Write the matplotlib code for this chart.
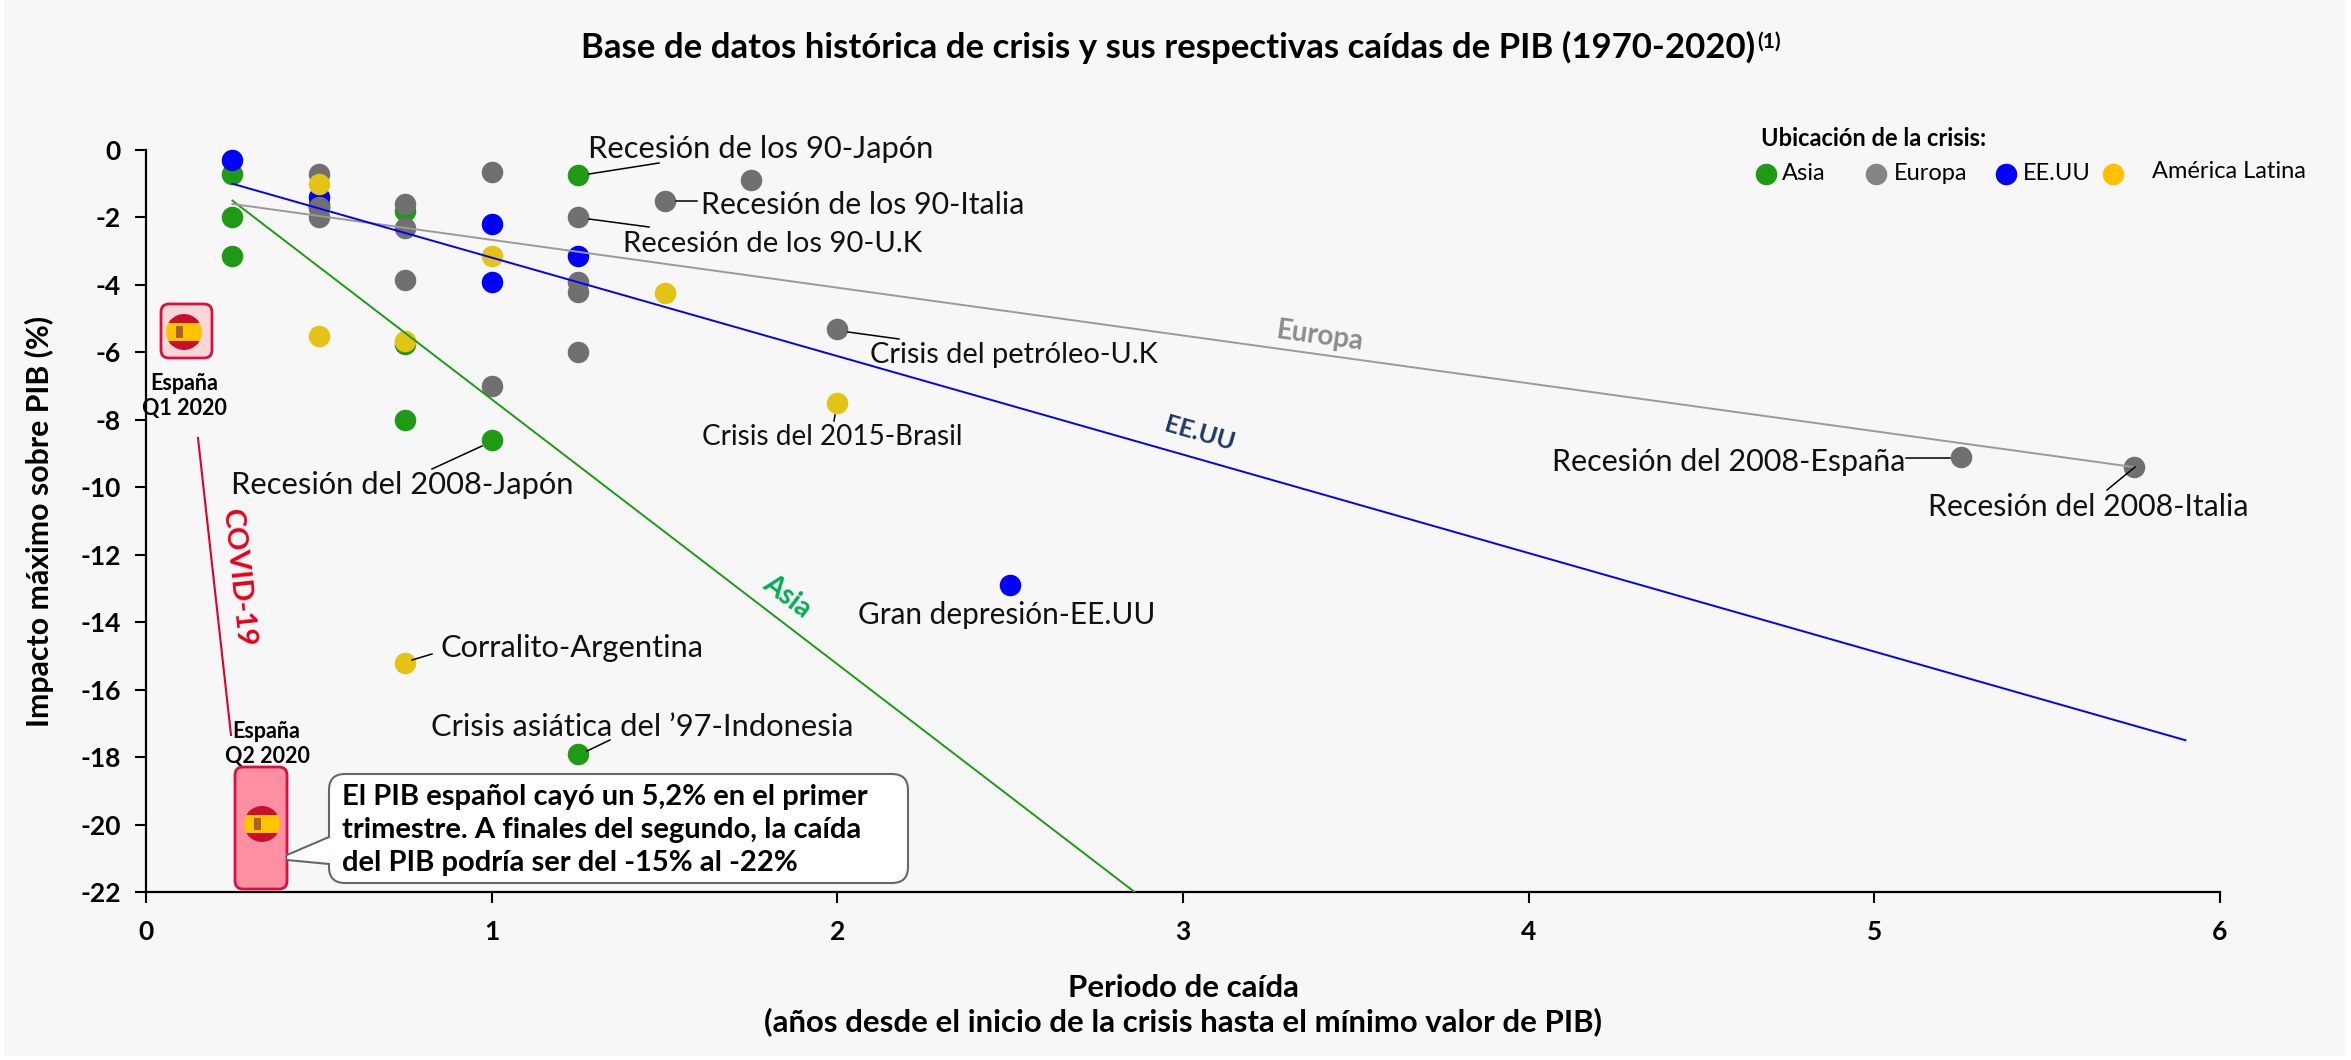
import matplotlib
matplotlib.use('Agg')
import matplotlib.pyplot as plt
from matplotlib.patches import Rectangle, FancyBboxPatch, Polygon, Circle

plt.rcParams['font.family'] = ['Lato', 'DejaVu Sans']

W, H = 2351, 1060

# datos por region (x = años de caida, y = impacto PIB)
asia_x = [0.25, 0.25, 0.25, 0.5, 0.75, 0.75, 0.75, 1, 1.25, 1.25]
asia_y = [-0.7, -2, -3.15, -1.6, -1.8, -5.75, -8, -8.6, -0.75, -17.9]
europa_x = [0.5, 0.5, 0.5, 0.75, 0.75, 0.75, 1, 1, 1.25, 1.25, 1.25, 1.25, 1.5, 1.75, 2, 5.25, 5.75]
europa_y = [-0.7, -1.7, -2, -1.6, -2.3, -3.85, -0.65, -7, -2, -3.9, -4.2, -6, -1.5, -0.9, -5.3, -9.1, -9.4]
eeuu_x = [0.25, 0.5, 0.5, 1, 1, 1.25, 2.5]
eeuu_y = [-0.3, -1.4, -1.7, -2.2, -3.9, -3.15, -12.9]
latam_x = [0.5, 0.5, 0.75, 0.75, 1, 1.5, 2]
latam_y = [-1, -5.5, -5.65, -15.2, -3.15, -4.25, -7.5]

# lineas de tendencia
trend_asia_x = [0.25, 2.86]
trend_asia_y = [-1.5, -22]
trend_europa_x = [0.25, 5.75]
trend_europa_y = [-1.6, -9.4]
trend_eeuu_x = [0.25, 5.9]
trend_eeuu_y = [-1.0, -17.5]

xticks = [0, 1, 2, 3, 4, 5, 6]
yticks = [0, -2, -4, -6, -8, -10, -12, -14, -16, -18, -20, -22]

GREEN = '#1f9a14'
GRAY = '#707070'
BLUE = '#0000ff'
YELLOW = '#e5c315'
DOT = 240

fig = plt.figure(figsize=(W / 100, H / 100), dpi=100, facecolor='white')

# capa de fondo y capa de anotaciones en pixeles
bg = fig.add_axes([0, 0, 1, 1], zorder=0)
bg.set_xlim(0, W)
bg.set_ylim(H, 0)
bg.axis('off')
bg.add_patch(Rectangle((4, 0), W - 9, H - 4, facecolor='#f7f7f7', edgecolor='none'))

ax = fig.add_axes([146 / W, 1 - 892 / H, (2220 - 146) / W, (892 - 150) / H], zorder=1)
ax.patch.set_alpha(0)
ax.scatter(asia_x, asia_y, s=DOT, color=GREEN, linewidths=0, clip_on=False, zorder=3)
ax.scatter(eeuu_x, eeuu_y, s=DOT, color=BLUE, linewidths=0, clip_on=False, zorder=4)
ax.scatter(europa_x, europa_y, s=DOT, color=GRAY, linewidths=0, clip_on=False, zorder=5)
ax.scatter(latam_x, latam_y, s=DOT, color=YELLOW, linewidths=0, clip_on=False, zorder=6)
ax.plot(trend_asia_x, trend_asia_y, color=GREEN, lw=1.4, zorder=7)
ax.plot(trend_europa_x, trend_europa_y, color='#9a9a9a', lw=1.4, zorder=7)
ax.plot(trend_eeuu_x, trend_eeuu_y, color=BLUE, lw=1.4, zorder=7)

ax.set_xlim(0, 6)
ax.set_ylim(-22, 0)
ax.set_xticks(xticks, labels=[str(v) for v in xticks], fontweight='bold', fontsize=19)
ax.set_yticks(yticks, labels=[str(v) for v in yticks], fontweight='bold', fontsize=19)
ax.tick_params(axis='x', length=8, width=1.5, pad=12)
ax.tick_params(axis='y', length=8, width=1.5, pad=10)
ax.spines['top'].set_visible(False)
ax.spines['right'].set_visible(False)
ax.spines['left'].set_linewidth(1.6)
ax.spines['bottom'].set_linewidth(1.6)

ov = fig.add_axes([0, 0, 1, 1], zorder=2)
ov.set_xlim(0, W)
ov.set_ylim(H, 0)
ov.axis('off')


def txt(x, y, s, size=22.2, ha='left', **kw):
    ov.text(x, y, s, fontsize=size, ha=ha, va='center', **kw)


def leader(x0, y0, x1, y1):
    ov.plot([x0, x1], [y0, y1], color='black', lw=1.1)


def flag(cx, cy, r=18):
    clip = Circle((cx, cy), r, transform=ov.transData)
    for y0, h, c in [(cy - r, r * 0.5, '#c8102e'), (cy - r * 0.5, r, '#ffc400'), (cy + r * 0.5, r * 0.5, '#c8102e')]:
        p = Rectangle((cx - r, y0), 2 * r, h, facecolor=c, edgecolor='none')
        ov.add_patch(p)
        p.set_clip_path(clip)
    ov.add_patch(Rectangle((cx - 8, cy - 6), 7, 12, facecolor='#a5622a', edgecolor='none'))


# titulos
txt(1168, 47, 'Base de datos histórica de crisis y sus respectivas caídas de PIB (1970-2020)', size=25, ha='center', fontweight='bold')
txt(1757, 42, '(1)', size=15, fontweight='bold')
ov.text(39, 521, 'Impacto máximo sobre PIB (%)', fontsize=21.8, rotation=90, ha='center', va='center', fontweight='bold')
txt(1183, 988, 'Periodo de caída', size=22.4, ha='center', fontweight='bold')
txt(1183, 1022, '(años desde el inicio de la crisis hasta el mínimo valor de PIB)', size=22.4, ha='center', fontweight='bold')

# leyenda
txt(1761, 139, 'Ubicación de la crisis:', size=17, fontweight='bold')
legend_x = [1766, 1876, 2006, 2113]
legend_c = [GREEN, '#858585', BLUE, '#ffc000']
for lx, lc in zip(legend_x, legend_c):
    ov.scatter([lx], [174], s=DOT, color=lc, linewidths=0)
txt(1782, 174, 'Asia', size=17)
txt(1894, 174, 'Europa', size=17)
txt(2023, 174, 'EE.UU', size=17)
txt(2152, 171, 'América Latina', size=17)

# etiquetas de crisis
txt(588, 149, 'Recesión de los 90-Japón', color='#111111')
leader(589, 174, 659, 163)
txt(701, 205, 'Recesión de los 90-Italia', size=21.8, color='#111111')
leader(676, 201, 697, 201)
txt(623, 244, 'Recesión de los 90-U.K', size=21.1, color='#111111')
leader(589, 219, 649, 227)
txt(870, 355, 'Crisis del petróleo-U.K', size=20.9, color='#111111')
leader(848, 332, 899, 339)
txt(702, 437, 'Crisis del 2015-Brasil', size=20.1, color='#111111')
leader(835, 415, 834, 421)
txt(231, 485, 'Recesión del 2008-Japón', color='#111111')
leader(482, 446, 432, 469)
txt(441, 648, 'Corralito-Argentina', color='#111111')
leader(412, 660, 432, 654)
txt(858, 615, 'Gran depresión-EE.UU', size=21.4, color='#111111')
txt(431, 727, "Crisis asiática del ’97-Indonesia", color='#111111')
leader(587, 751, 610, 740)
txt(1552, 462, 'Recesión del 2008-España', size=22, color='#111111')
leader(1906, 458, 1950, 458)
txt(1928, 507, 'Recesión del 2008-Italia', size=21.8, color='#111111')
leader(2135, 467, 2107, 490)

# nombres de las tendencias
txt(1320, 336, 'Europa', size=20, ha='center', rotation=-8, rotation_mode='anchor', color='#8c8c8c', fontweight='bold')
txt(1200, 434, 'EE.UU', size=18, ha='center', rotation=-16, rotation_mode='anchor', color='#1f3864', fontweight='bold')
txt(787, 596, 'Asia', size=20, ha='center', rotation=-37, rotation_mode='anchor', color='#00b050', fontweight='bold')
txt(238, 578, 'COVID-19', size=21, ha='center', rotation=-84, rotation_mode='anchor', color='#e8001c', fontweight='bold')
ov.plot([198, 231], [438, 735], color='#d9002b', lw=1.5)

# España Q1 y Q2
ov.add_patch(FancyBboxPatch((161, 304), 51, 54, boxstyle='round,pad=0,rounding_size=8',
                            facecolor='#f9d6d8', edgecolor='#d9103f', lw=2))
flag(184, 332)
txt(184, 383, 'España', size=15.5, ha='center', fontweight='bold')
txt(184, 408, 'Q1 2020', size=15.5, ha='center', fontweight='bold')
ov.add_patch(FancyBboxPatch((235, 767), 52, 122, boxstyle='round,pad=0,rounding_size=8',
                            facecolor='#ff8fa3', edgecolor='#d9103f', lw=2))
flag(262, 824)
txt(266, 732, 'España', size=15.5, ha='center', fontweight='bold')
txt(267, 757, 'Q2 2020', size=15.5, ha='center', fontweight='bold')

# globo de texto
ov.add_patch(FancyBboxPatch((329, 774), 579, 109, boxstyle='round,pad=0,rounding_size=16',
                            facecolor='white', edgecolor='#5f6b6b', lw=1.5))
ov.add_patch(Polygon([(331, 837), (287, 855), (287, 860), (331, 864)], facecolor='white', edgecolor='none', zorder=3))
ov.plot([329, 287], [837, 855], color='#5f6b6b', lw=1.5, zorder=4)
ov.plot([329, 287], [864, 860], color='#5f6b6b', lw=1.5, zorder=4)
txt(342, 797, 'El PIB español cayó un 5,2% en el primer', size=21, fontweight='bold', zorder=5)
txt(342, 830, 'trimestre. A finales del segundo, la caída', size=21, fontweight='bold', zorder=5)
txt(342, 863, 'del PIB podría ser del -15% al -22%', size=21, fontweight='bold', zorder=5)

fig.savefig('out.png', dpi=100)
